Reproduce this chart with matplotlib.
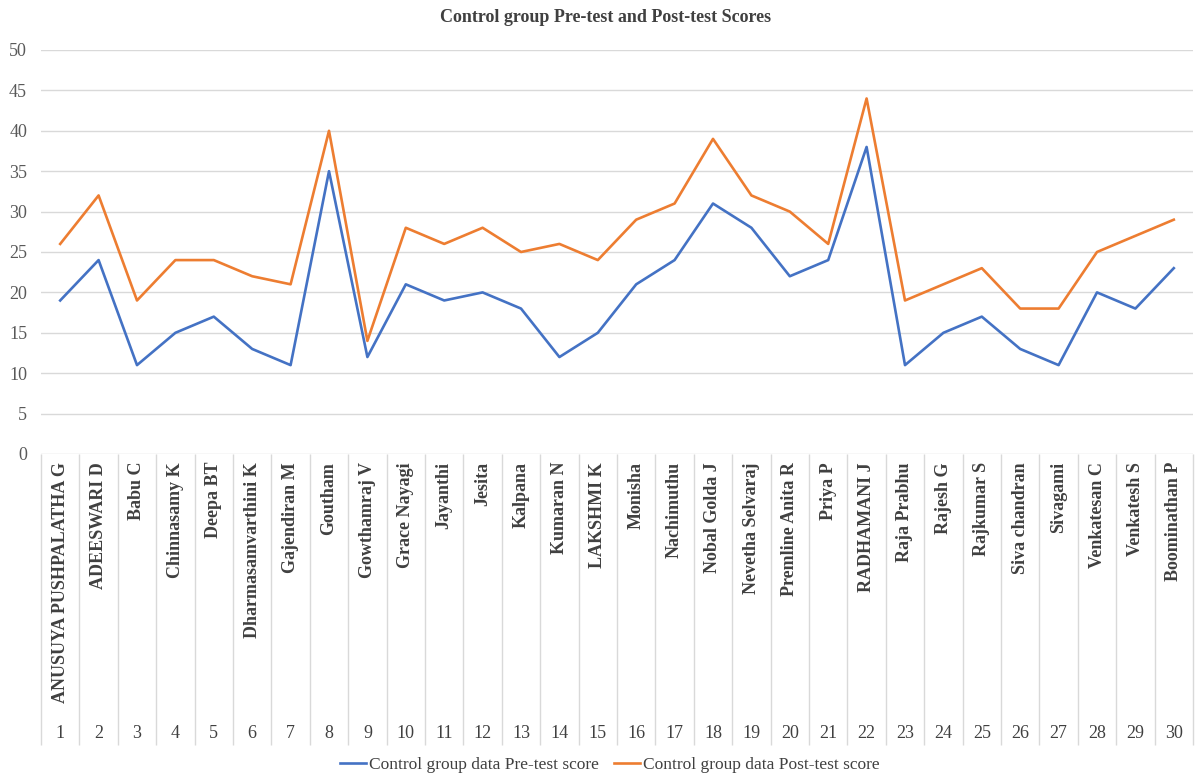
import matplotlib
matplotlib.use("Agg")
import matplotlib.pyplot as plt
import numpy as np

names = ["ANUSUYA PUSHPALATHA G", "ADEESWARI D", "Babu C", "Chinnasamy K", "Deepa BT",
         "Dharmasamvarthini K", "Gajendiran M", "Goutham", "Gowthamraj V", "Grace Nayagi",
         "Jayanthi", "Jesita", "Kalpana", "Kumaran N", "LAKSHMI K", "Monisha", "Nachimuthu",
         "Nobal Golda J", "Nevetha Selvaraj", "Premline Anita R", "Priya P", "RADHAMANI J",
         "Raja Prabhu", "Rajesh G", "Rajkumar S", "Siva chandran", "Sivagami", "Venkatesan C",
         "Venkatesh S", "Boominathan P"]
numbers = [str(i) for i in range(1, 31)]
pre_scores = [19, 24, 11, 15, 17, 13, 11, 35, 12, 21, 19, 20, 18, 12, 15,
              21, 24, 31, 28, 22, 24, 38, 11, 15, 17, 13, 11, 20, 18, 23]
post_scores = [26, 32, 19, 24, 24, 22, 21, 40, 14, 28, 26, 28, 25, 26, 24,
               29, 31, 39, 32, 30, 26, 44, 19, 21, 23, 18, 18, 25, 27, 29]
yticks = [0, 5, 10, 15, 20, 25, 30, 35, 40, 45, 50]

plt.rcParams['font.family'] = ['Liberation Serif', 'DejaVu Serif']

W, H = 1195, 775
fig = plt.figure(figsize=(W / 100, H / 100), dpi=100)
left, right, top, bottom = 41, 1193, 50, 454
ax = fig.add_axes([left / W, 1 - bottom / H, (right - left) / W, (bottom - top) / H])

x = np.arange(1, len(names) + 1)
ax.plot(x, pre_scores, color="#4472C4", lw=1.9, label="Control group data Pre-test score", zorder=3)
ax.plot(x, post_scores, color="#ED7D31", lw=1.9, label="Control group data Post-test score", zorder=3)

ax.set_xlim(0.5, len(names) + 0.5)
ax.set_ylim(0, 50)
ax.set_yticks(yticks)
ax.set_yticklabels([str(v) for v in yticks], color="#595959", fontsize=13)
ax.tick_params(axis="y", length=0, pad=10)
ax.set_xticks([])
ax.grid(axis="y", color="#D9D9D9", lw=1.0)
ax.set_axisbelow(True)
for s in ax.spines.values():
    s.set_visible(False)

ax_h = bottom - top
trans = ax.get_xaxis_transform()
for xi, nm, num in zip(x, names, numbers):
    ax.text(xi, -8 / ax_h, nm, rotation=90, ha="center", va="top", fontsize=13,
            fontweight="bold", color="#404040", transform=trans)
    ax.text(xi, -279 / ax_h, num, ha="center", va="center", fontsize=13,
            color="#404040", transform=trans)
seps = np.arange(0.5, len(names) + 1, 1.0)
ax.vlines(seps, -291 / ax_h, 0, transform=trans, color="#D9D9D9", lw=1.0, clip_on=False)

fig.text(606 / W, 1 - 18 / H, "Control group Pre-test and Post-test Scores", ha="center",
         va="center", fontsize=13, fontweight="bold", color="#404040")

fig.legend(loc="center", bbox_to_anchor=(610 / W, 1 - 765 / H), ncol=2, frameon=False,
           fontsize=12.5, handlelength=1.5, handletextpad=0.15, columnspacing=0.9,
           labelcolor="#404040")

fig.savefig("out.png", dpi=100, facecolor="white")
